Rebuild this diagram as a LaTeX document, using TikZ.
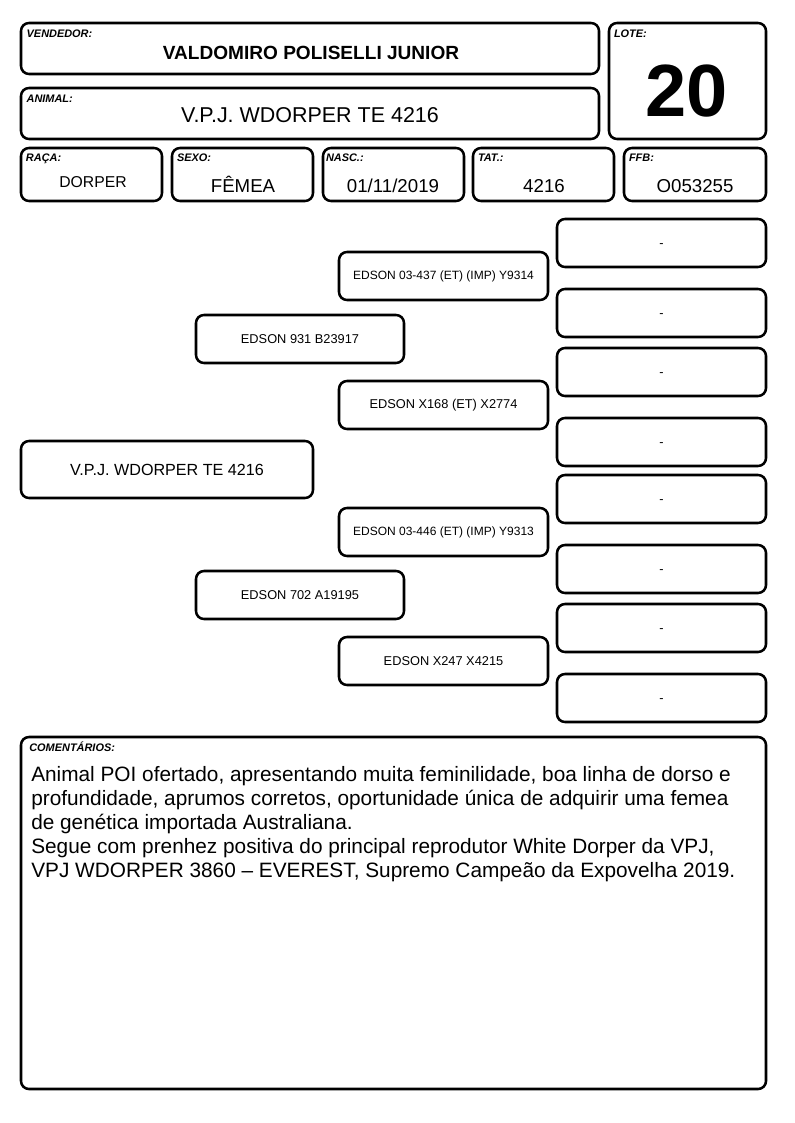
\documentclass[tikz,border=0pt]{standalone}
\usepackage{fontspec}
\setmainfont{Liberation Sans}
\usetikzlibrary{positioning, calc}

\begin{document}
\begin{tikzpicture}[
    x=0.75pt, y=-0.75pt,
    box/.style={rectangle, rounded corners=6pt, draw=black, line width=1.9pt, fill=white, inner sep=0pt},
    fieldlabel/.style={anchor=base west, inner sep=0pt, font=\fontsize{8.2}{9}\selectfont\bfseries\itshape},
    fieldvalue/.style={anchor=base, inner sep=0pt, font=\fontsize{14}{16}\selectfont},
    pedbox/.style={box, minimum width=156.75pt, minimum height=36pt, font=\fontsize{9.6}{11}\selectfont},
    longname/.style={font=\fontsize{9}{11}\selectfont},
    emptybox/.style={pedbox, text height=7.4pt, text depth=0pt}
]
\useasboundingbox (0,0) rectangle (794,1123);

% ==================== HEADER ====================
\node[box, minimum width=433.5pt, minimum height=38.25pt] (vendedor) at (310,48.5) {};
\node[fieldlabel] at ($(vendedor.north west)+(5pt,-11.8pt)$) {VENDEDOR:};
\node[fieldvalue, font=\fontsize{14.3}{16}\selectfont\bfseries] at (311,60) {VALDOMIRO POLISELLI JUNIOR};

\node[box, minimum width=433.5pt, minimum height=38.25pt] (animal) at (310,113.5) {};
\node[fieldlabel] at ($(animal.north west)+(5pt,-11.5pt)$) {ANIMAL:};
\node[fieldvalue, font=\fontsize{16.1}{18}\selectfont] at (310,123) {V.P.J. WDORPER TE 4216};

\node[box, minimum width=117.75pt, minimum height=87pt] (lote) at (687.5,81) {};
\node[fieldlabel] at ($(lote.north west)+(4.5pt,-11.8pt)$) {LOTE:};
\node[fieldvalue, font=\fontsize{55.5}{58}\selectfont\bfseries] at (687,117) {20};

% ==================== DATA ROW ====================
\node[box, minimum width=105.75pt, minimum height=39.75pt] (raca) at (91.5,174.5) {};
\node[fieldlabel] at ($(raca.north west)+(4.5pt,-11pt)$) {RAÇA:};
\node[fieldvalue, font=\fontsize{11.8}{14}\selectfont] at (93,188) {DORPER};

\node[box, minimum width=105.75pt, minimum height=39.75pt] (sexo) at (242.5,174.5) {};
\node[fieldlabel] at ($(sexo.north west)+(4.5pt,-11pt)$) {SEXO:};
\node[fieldvalue] at (243,193) {FÊMEA};

\node[box, minimum width=105.75pt, minimum height=39.75pt] (nasc) at (393.5,174.5) {};
\node[fieldlabel] at ($(nasc.north west)+(3pt,-11pt)$) {NASC.:};
\node[fieldvalue] at (393,193) {01/11/2019};

\node[box, minimum width=105.75pt, minimum height=39.75pt] (tat) at (543.5,174.5) {};
\node[fieldlabel] at ($(tat.north west)+(4.5pt,-11pt)$) {TAT.:};
\node[fieldvalue] at (544,193) {4216};

\node[box, minimum width=106.5pt, minimum height=39.75pt] (ffb) at (695,174.5) {};
\node[fieldlabel] at ($(ffb.north west)+(4.5pt,-11pt)$) {FFB:};
\node[fieldvalue] at (695,193) {O053255};

% ==================== PEDIGREE ====================
% animal
\node[box, minimum width=219pt, minimum height=42.75pt, font=\fontsize{12.1}{14}\selectfont] (self) at (167,469.5) {V.P.J. WDORPER TE 4216};

% parents
\node[pedbox, minimum width=156pt] (sire) at (300,339) {EDSON 931 B23917};
\node[pedbox, minimum width=156pt] (dam) at (300,595) {EDSON 702 A19195};

% grandparents
\node[pedbox, longname] (sire-sire) at (443.5,276) {EDSON 03-437 (ET) (IMP) Y9314};
\node[pedbox] (sire-dam) at (443.5,405) {EDSON X168 (ET) X2774};
\node[pedbox, longname] (dam-sire) at (443.5,532) {EDSON 03-446 (ET) (IMP) Y9313};
\node[pedbox] (dam-dam) at (443.5,661) {EDSON X247 X4215};

% great-grandparents
\node[emptybox] (ggp-1) at (661.5,243) {-};
\node[emptybox] (ggp-2) at (661.5,313) {-};
\node[emptybox] (ggp-3) at (661.5,372) {-};
\node[emptybox] (ggp-4) at (661.5,442) {-};
\node[emptybox] (ggp-5) at (661.5,499) {-};
\node[emptybox] (ggp-6) at (661.5,569) {-};
\node[emptybox] (ggp-7) at (661.5,628) {-};
\node[emptybox] (ggp-8) at (661.5,698) {-};

% ==================== COMMENTS ====================
\node[box, minimum width=558.75pt, minimum height=264pt] (comentarios) at (393.5,913) {};
\node[fieldlabel] at ($(comentarios.north west)+(7pt,-11.5pt)$) {COMENTÁRIOS:};
\node[anchor=north west, inner sep=0pt, align=left, font=\fontsize{15.6}{18}\selectfont] (texto) at (31,766) {
    Animal POI ofertado, apresentando muita feminilidade, boa linha de dorso e\\
    profundidade, aprumos corretos, oportunidade única de adquirir uma femea\\
    de genética importada Australiana.\\
    Segue com prenhez positiva do principal reprodutor White Dorper da VPJ,\\
    VPJ WDORPER 3860 – EVEREST, Supremo Campeão da Expovelha 2019.
};

\end{tikzpicture}
\end{document}
